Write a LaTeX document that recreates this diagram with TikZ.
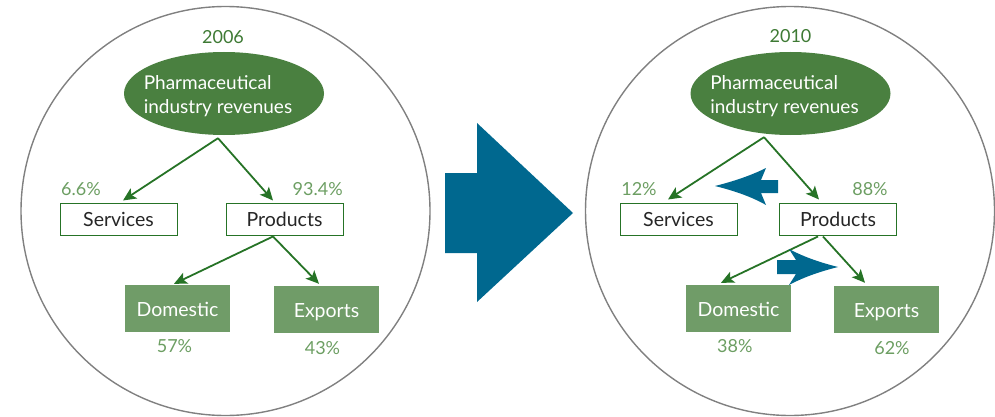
\documentclass[tikz,border=0pt]{standalone}
\usepackage{fontspec}
\setmainfont{Lato}
\usetikzlibrary{arrows.meta,shapes.geometric,calc}

\definecolor{hubgreen}{RGB}{74,128,64}
\definecolor{linegreen}{RGB}{38,115,38}
\definecolor{boxgreen}{RGB}{112,156,104}
\definecolor{pctgreen}{RGB}{108,158,98}
\definecolor{yeargreen}{RGB}{62,122,52}
\definecolor{ringgray}{RGB}{128,128,128}
\definecolor{arrowblue}{RGB}{0,104,143}

\tikzset{
  ring/.style={draw=ringgray, line width=1.4pt, circle, minimum size=409pt, inner sep=0pt},
  hub/.style={ellipse, fill=hubgreen, minimum width=200pt, minimum height=83pt, inner sep=0pt},
  hubtext/.style={text=white, align=left, inner sep=0pt, font=\fontsize{19}{24}\selectfont},
  labelfont/.style={font=\fontsize{19.5}{22}\selectfont},
  smallfont/.style={font=\fontsize{18}{22}\selectfont},
  outlinebox/.style={labelfont, draw=linegreen, line width=1pt, fill=white, text=black!85,
    minimum width=117pt, minimum height=32pt, inner sep=0pt, text height=15pt, text depth=0pt},
  fillbox/.style={labelfont, fill=boxgreen, text=white,
    minimum width=105pt, minimum height=47pt, inner sep=0pt, text height=15pt, text depth=0pt},
  pct/.style={smallfont, text=pctgreen, inner sep=0pt, anchor=base},
  year/.style={smallfont, text=yeargreen, inner sep=0pt, anchor=base},
  link/.style={draw=linegreen, line width=1.8pt, -{Stealth[length=13pt,width=12pt,inset=3pt]}},
  blueshape/.style={fill=arrowblue, draw=none}
}

\begin{document}
\begin{tikzpicture}[x=1pt,y=-1pt]
\useasboundingbox (0,0) rectangle (995,417);

% ---------------- 2006 panel ----------------
\node[ring] (ring06) at (225.5,211) {};
\node[year] (year06) at (223,44) {2006};
\node[hub] (hub06) at (224,93.5) {};
\node[hubtext] (hubtxt06) at ($(hub06.center)+(-6,3)$) {Pharmaceutical\\industry revenues};
\node[outlinebox] (srv06) at (118.5,219) {Services};
\node[outlinebox] (prd06) at (284.5,219) {Products};
\node[fillbox] (dom06) at (177.5,308.5) {Domestic};
\node[fillbox] (exp06) at (326.5,309.5) {Exports};
\node[pct] (psrv06) at (81,195) {6.6\%};
\node[pct] (pprd06) at (317.7,195) {93.4\%};
\node[pct] (pdom06) at (174.5,352.3) {57\%};
\node[pct] (pexp06) at (322.5,354) {43\%};

\coordinate (fork06) at ($(hub06.south)+(-6,3)$);
\coordinate (split06) at ($(prd06.south)+(-11.5,1)$);
\draw[link] (fork06) -- ($(srv06.north)+(4.5,-2)$);
\draw[link] (fork06) -- ($(prd06.north)+(-11.5,-2)$);
\draw[link] (split06) -- ($(dom06.north)+(-3.5,-1)$);
\draw[link] (split06) -- ($(exp06.north)+(-7.5,-2)$);

% ---------------- transition arrow ----------------
\fill[blueshape] (445,173) -- (477,173) -- (477,123) -- (573,213)
  -- (477,302) -- (477,253) -- (445,253) -- cycle;

% ---------------- 2010 panel ----------------
\node[ring] (ring10) at (790,211) {};
\node[year] (year10) at (790.5,43) {2010};
\node[hub] (hub10) at (790.5,93.5) {};
\node[hubtext] (hubtxt10) at ($(hub10.center)+(-6,3)$) {Pharmaceutical\\industry revenues};
\node[outlinebox] (srv10) at (678.5,219) {Services};
\node[outlinebox] (prd10) at (838,219) {Products};
\node[fillbox] (dom10) at (738.5,308.5) {Domestic};
\node[fillbox] (exp10) at (886.5,309.5) {Exports};
\node[pct] (psrv10) at (639,195) {12\%};
\node[pct] (pprd10) at (870,195) {88\%};
\node[pct] (pdom10) at (734.8,352.3) {38\%};
\node[pct] (pexp10) at (892,354) {62\%};

\coordinate (fork10) at ($(hub10.south)+(-26.5,2)$);
\coordinate (splitA10) at ($(prd10.south)+(-20,1)$);
\coordinate (splitB10) at ($(prd10.south)+(-15,1)$);
\draw[link] (fork10) -- ($(srv10.north)+(-10.5,-3)$);
\draw[link] (fork10) -- ($(prd10.north)+(-19,-3)$);
\draw[link] (splitA10) -- ($(dom10.north)+(-17.5,-2)$);
\draw[link] (splitB10) -- ($(exp10.north)+(-21.5,-3)$);

% shift indicators: towards services, towards exports
\fill[blueshape] (715,186) .. controls (735,181) and (752,175) .. (766,168)
  -- (761,180) -- (778,180) -- (778,193) -- (761,193) -- (766,205)
  .. controls (752,197) and (735,191) .. cycle;
\fill[blueshape] (838,267) .. controls (818,262) and (802,256) .. (789,249)
  -- (796,260) -- (777,260) -- (777,274) -- (796,274) -- (789,285)
  .. controls (802,278) and (818,272) .. cycle;
\end{tikzpicture}
\end{document}
